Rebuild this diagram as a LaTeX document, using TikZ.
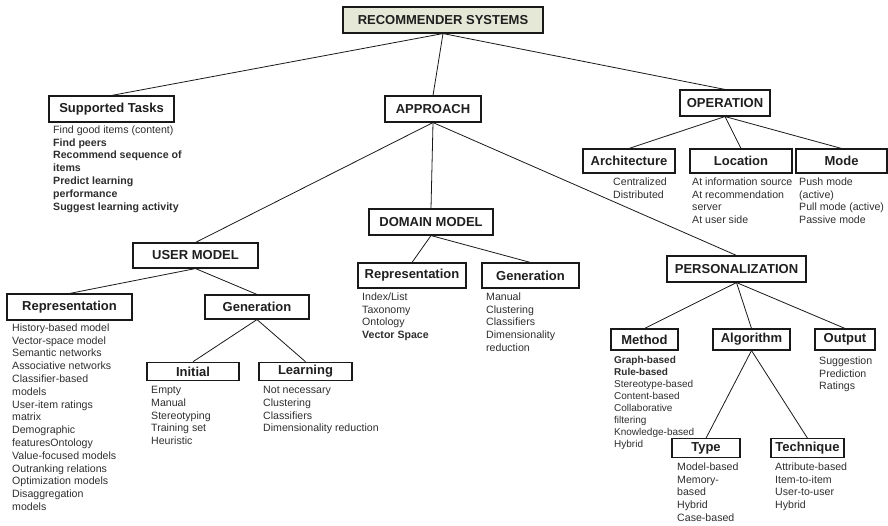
\documentclass[tikz,border=0pt]{standalone}
\usepackage{fontspec}
\setmainfont{Liberation Sans}
\usepackage{xcolor}
\usepackage{tikz}
\definecolor{rootfill}{RGB}{229,231,215}

\begin{document}
\begin{tikzpicture}[
    x=1pt, y=-1pt,
    box/.style={draw=black!90, line width=1.1pt, fill=white, inner sep=0pt,
                font=\fontsize{13}{15}\selectfont\bfseries, text=black!88, minimum height=26},
    rootbox/.style={box, fill=rootfill},
    subbox/.style={box, minimum height=24},
    midbox/.style={box, minimum height=21},
    smallbox/.style={box, minimum height=18.5},
    items/.style={anchor=north west, inner sep=0pt, align=left, text=black!82,
                  font=\fontsize{10.6}{12.8}\selectfont},
    tightitems/.style={items, font=\fontsize{10}{11.9}\selectfont},
    link/.style={draw=black!90, line width=0.8pt}
]
\useasboundingbox (0,0) rectangle (888,525);

% Top level.
\node[rootbox, minimum width=200] (root) at (443,20) {RECOMMENDER SYSTEMS};
\node[box, minimum width=125] (tasks) at (111.5,109) {Supported Tasks};
\node[box, minimum width=96] (approach) at (433,109) {APPROACH};
\node[box, minimum width=90] (operation) at (725,103) {OPERATION};

\draw[link] (root.south) -- (tasks.north);
\draw[link] (root.south) -- (approach.north);
\draw[link] (root.south) -- (operation.north);

\node[items] (tasksitems) at (53,125.5) {Find good items (content)\\\textbf{Find peers}\\
    \textbf{Recommend sequence of}\\\textbf{items}\\\textbf{Predict learning}\\
    \textbf{performance}\\\textbf{Suggest learning activity}};

% Operation branch.
\node[subbox, minimum width=92] (arch) at (629,161) {Architecture};
\node[subbox, minimum width=102] (location) at (741,161) {Location};
\node[subbox, minimum width=91] (mode) at (841.5,161) {Mode};

\draw[link] (operation.south) -- (arch.north);
\draw[link] (operation.south) -- (location.north);
\draw[link] (operation.south) -- (mode.north);

\node[items] (architems) at (613,177.5) {Centralized\\Distributed};
\node[items] (locitems) at (692,177.5) {At information source\\At recommendation\\server\\At user side};
\node[items] (modeitems) at (799,177.5) {Push mode\\(active)\\Pull mode (active)\\Passive mode};

% Approach branch: user, domain and personalization.
\node[box, minimum width=125, minimum height=25] (user) at (195.5,255.5) {USER MODEL};
\node[box, minimum width=124] (domain) at (431,222) {DOMAIN MODEL};
\node[box, minimum width=139] (pers) at (736.5,269) {PERSONALIZATION};

\draw[link] (approach.south) -- (user.north);
\draw[link] (approach.south) -- (domain.north);
\draw[link] (approach.south) -- (pers.north);

% User model.
\node[box, minimum width=125] (urep) at (69.5,307) {Representation};
\node[subbox, minimum width=104] (ugen) at (257,307) {Generation};
\node[smallbox, minimum width=92] (initial) at (193,371.5) {Initial};
\node[smallbox, minimum width=93] (learning) at (305.5,371.5) {Learning};

\draw[link] (user.south) -- (urep.north);
\draw[link] (user.south) -- (ugen.north);
\draw[link] (ugen.south) -- (initial.north);
\draw[link] (ugen.south) -- (learning.north);

\node[items] (urepitems) at (12,323.5) {History-based model\\Vector-space model\\Semantic networks\\
    Associative networks\\Classifier-based\\models\\User-item ratings\\matrix\\Demographic\\
    featuresOntology\\Value-focused models\\Outranking relations\\Optimization models\\
    Disaggregation\\models};
\node[items] (inititems) at (151,386) {Empty\\Manual\\Stereotyping\\Training set\\Heuristic};
\node[items] (learnitems) at (263,386) {Not necessary\\Clustering\\Classifiers\\Dimensionality reduction};

% Domain model.
\node[box, minimum width=108, minimum height=25] (drep) at (412,275.5) {Representation};
\node[box, minimum width=97, minimum height=25] (dgen) at (530.5,275.5) {Generation};

\draw[link] (domain.south) -- (drep.north);
\draw[link] (domain.south) -- (dgen.north);

\node[items] (drepitems) at (362,292.5) {Index/List\\Taxonomy\\Ontology\\\textbf{Vector Space}};
\node[items] (dgenitems) at (486,292.5) {Manual\\Clustering\\Classifiers\\Dimensionality\\reduction};

% Personalization.
\node[midbox, minimum width=67] (method) at (644.5,339.5) {Method};
\node[midbox, minimum width=77] (algo) at (751.5,339.5) {Algorithm};
\node[midbox, minimum width=60] (outp) at (845,339.5) {Output};
\node[smallbox, minimum width=68] (type) at (706,448) {Type};
\node[smallbox, minimum width=73] (technique) at (807.5,448) {Technique};

\draw[link] (pers.south) -- (method.north);
\draw[link] (pers.south) -- (algo.north);
\draw[link] (pers.south) -- (outp.north);
\draw[link] (algo.south) -- (type.north);
\draw[link] (algo.south) -- (technique.north);

\node[tightitems] (methoditems) at (614,356.5) {\textbf{Graph-based}\\\textbf{Rule-based}\\Stereotype-based\\
    Content-based\\Collaborative\\filtering\\Knowledge-based\\Hybrid};
\node[items] (outpitems) at (819,356.5) {Suggestion\\Prediction\\Ratings};
\node[items] (typeitems) at (677,462.5) {Model-based\\Memory-\\based\\Hybrid\\Case-based};
\node[items] (techitems) at (775,462.5) {Attribute-based\\Item-to-item\\User-to-user\\Hybrid};

\end{tikzpicture}
\end{document}
